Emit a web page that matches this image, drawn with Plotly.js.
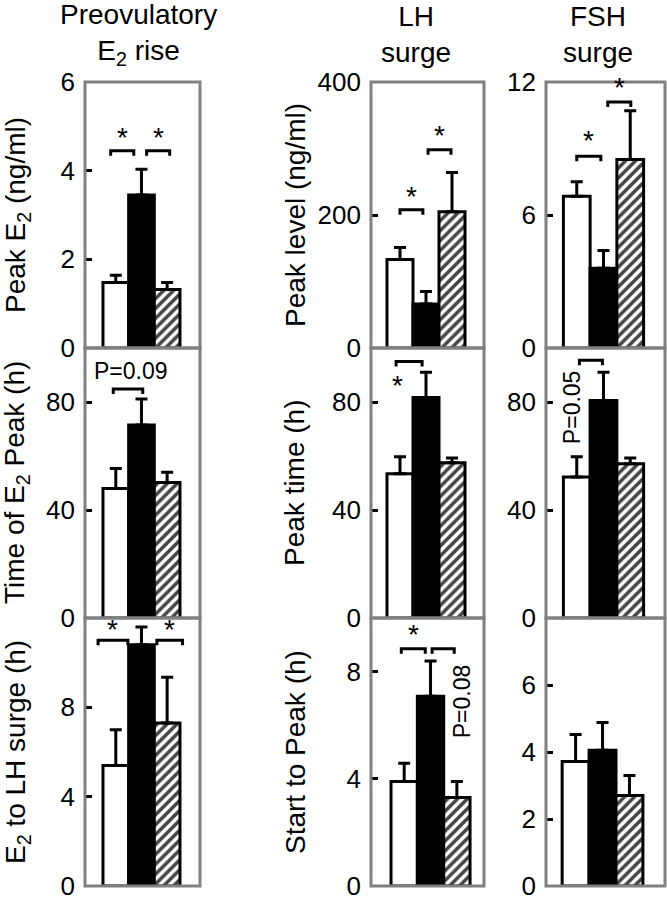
<!DOCTYPE html>
<html><head><meta charset="utf-8">
<script src="https://cdn.plot.ly/plotly-3.0.1.min.js"></script>
<style>html,body{margin:0;padding:0;background:#fff}</style>
</head><body><div id="chart" style="width:667px;height:900px"></div>
<script>
// ---- data ----
const barIndex = [0, 1, 2];
const barFill = ['white', 'black', 'white'];
const barPattern = ['', '', '/'];

const peakE2 = [1.48, 3.45, 1.32];
const peakE2Err = [0.16, 0.58, 0.16];
const e2PeakTime = [48, 71.5, 50.2];
const e2PeakTimeErr = [7.4, 9.6, 3.8];
const e2ToLH = [5.4, 10.8, 7.3];
const e2ToLHErr = [1.6, 0.8, 2.05];

const lhPeak = [133, 66, 205];
const lhPeakErr = [18, 19, 59];
const lhPeakTime = [53.4, 81.7, 57.5];
const lhPeakTimeErr = [6.3, 9.3, 1.8];
const lhStartToPeak = [3.9, 7.08, 3.3];
const lhStartToPeakErr = [0.68, 1.32, 0.6];

const fshPeak = [6.85, 3.6, 8.5];
const fshPeakErr = [0.65, 0.8, 2.2];
const fshPeakTime = [52.2, 80.6, 57.1];
const fshPeakTimeErr = [7.5, 10.4, 2.2];
const fshStartToPeak = [3.72, 4.05, 2.7];
const fshStartToPeakErr = [0.8, 0.83, 0.6];

const colTitles = ['Preovulatory<br>E<sub>2</sub> rise', 'LH<br>surge', 'FSH<br>surge'];
const rowTitlesCol1 = ['Peak E<sub>2</sub> (ng/ml)', 'Time of E<sub>2</sub> Peak (h)', 'E<sub>2</sub> to LH surge (h)'];
const rowTitlesCol2 = ['Peak level (ng/ml)', 'Peak time (h)', 'Start to Peak (h)'];

// ---- layout geometry ----
const W = 667, H = 900;
const colPx = [[85, 200], [371, 484], [546, 665]];
const rowPx = [[82, 348], [348, 618], [618, 886]];
const FONT = 'Liberation Sans, Arial, Helvetica, sans-serif';

const panels = [
  {r:0,c:0,v:peakE2,e:peakE2Err,range:[0,6],ticks:[0,2,4,6],minor:[2,4],xr:[-1.2,3.28],
   br:[[-0.2,0.7,4.45],[1.2,2.1,4.45]], st:[[0.25,4.75],[1.65,4.75]], notes:[]},
  {r:0,c:1,v:lhPeak,e:lhPeakErr,range:[0,400],ticks:[0,200,400],minor:[200],xr:[-1.115,3.23],
   br:[[0,0.88,208],[1.08,1.96,298]], st:[[0.44,228],[1.52,320]], notes:[]},
  {r:0,c:2,v:fshPeak,e:fshPeakErr,range:[0,12],ticks:[0,6,12],minor:[6],xr:[-1.15,3.3],
   br:[[0,0.9,8.65],[1.16,2.02,11.1]], st:[[0.45,9.35],[1.59,11.75]], notes:[]},
  {r:1,c:0,v:e2PeakTime,e:e2PeakTimeErr,range:[0,100],ticks:[0,40,80],minor:[40,80],xr:[-1.2,3.28],
   br:[[-0.1,1.05,84.8]], st:[], notes:[['P=0.09',0.6,91.5,0]]},
  {r:1,c:1,v:lhPeakTime,e:lhPeakTimeErr,range:[0,100],ticks:[0,40,80],minor:[40,80],xr:[-1.115,3.23],
   br:[[-0.15,0.85,95]], st:[[-0.08,86]], notes:[]},
  {r:1,c:2,v:fshPeakTime,e:fshPeakTimeErr,range:[0,100],ticks:[0,40,80],minor:[40,80],xr:[-1.15,3.3],
   br:[[0.1,0.96,95.5]], st:[], notes:[['P=0.05',-0.15,78,-90]]},
  {r:2,c:0,v:e2ToLH,e:e2ToLHErr,range:[0,12],ticks:[0,4,8],minor:[4,8],xr:[-1.2,3.28],
   br:[[-0.69,0.47,11.0],[1.6,2.6,11.0]], st:[[-0.11,11.5],[2.1,11.5]], notes:[]},
  {r:2,c:1,v:lhStartToPeak,e:lhStartToPeakErr,range:[0,10],ticks:[0,4,8],minor:[4,8],xr:[-1.26,3.03],
   br:[[-0.11,0.8,8.85],[1.06,1.9,8.85]], st:[[0.35,9.4]], notes:[['P=0.08',2.2,6.9,-90]]},
  {r:2,c:2,v:fshStartToPeak,e:fshStartToPeakErr,range:[0,8],ticks:[0,2,4,6],minor:[2,4,6],xr:[-1.1,3.32],
   br:[], st:[], notes:[]}
];

const traces = [];
const layout = {
  width: W, height: H, margin: {l:0, r:0, t:0, b:0},
  paper_bgcolor: 'white', plot_bgcolor: 'white',
  showlegend: false, bargap: 0,
  font: {family: FONT, size: 26, color: 'black'},
  shapes: [], annotations: []
};

panels.forEach((p, i) => {
  const n = i === 0 ? '' : String(i + 1);
  const xa = 'x' + n, ya = 'y' + n;
  const pxPerUnit = (rowPx[p.r][1] - rowPx[p.r][0]) / (p.range[1] - p.range[0]);
  traces.push({
    type: 'bar', x: barIndex, y: p.v, xaxis: xa, yaxis: ya, width: 1,
    marker: {color: barFill, line: {color: 'black', width: 3},
             pattern: {shape: barPattern, fgcolor: 'black', fgopacity: 1, bgcolor: 'white', size: 7, solidity: 0.5, fillmode: 'overlay'}},
    error_y: {type: 'data', array: p.e, arrayminus: [0,0,0], symmetric: false, color: 'black', thickness: 3, width: 6},
    hoverinfo: 'none'
  });
  layout['xaxis' + n] = {
    domain: [colPx[p.c][0] / W, colPx[p.c][1] / W], range: p.xr, anchor: ya,
    showticklabels: false, showgrid: false, zeroline: false, showline: false, ticks: '', fixedrange: true
  };
  layout['yaxis' + n] = {
    domain: [1 - rowPx[p.r][1] / H, 1 - rowPx[p.r][0] / H], range: p.range, anchor: xa,
    tickmode: 'array', tickvals: p.ticks, ticks: '', ticklabelstandoff: 9, ticklabeloverflow: 'allow',
    tickfont: {size: 26, family: FONT, color: 'black'},
    minor: {tickmode: 'array', tickvals: p.minor, ticks: 'inside', ticklen: 7, tickwidth: 3, tickcolor: 'black', showgrid: false},
    showgrid: false, zeroline: false, showline: false, fixedrange: true
  };
  // frame
  layout.shapes.push({type: 'rect', xref: xa + ' domain', yref: ya + ' domain', x0: 0, x1: 1, y0: 0, y1: 1,
    line: {color: '#808080', width: 3}, layer: 'above'});
  // significance brackets
  const leg = 5 / pxPerUnit;
  p.br.forEach(b => {
    layout.shapes.push({type: 'path', xref: xa, yref: ya,
      path: `M ${b[0]} ${b[2] - leg} L ${b[0]} ${b[2]} L ${b[1]} ${b[2]} L ${b[1]} ${b[2] - leg}`,
      line: {color: 'black', width: 3}});
  });
  p.st.forEach(s => {
    layout.annotations.push({xref: xa, yref: ya, x: s[0], y: s[1], text: '*', showarrow: false,
      xanchor: 'center', yanchor: 'middle', font: {size: 28, family: FONT, color: 'black'}});
  });
  p.notes.forEach(t => {
    layout.annotations.push({xref: xa, yref: ya, x: t[1], y: t[2], text: t[0], showarrow: false,
      textangle: t[3], xanchor: 'center', yanchor: 'middle', font: {size: 23, family: FONT, color: 'black'}});
  });
});

// column titles
const colTitleX = [138, 416, 598];
colTitles.forEach((t, c) => {
  layout.annotations.push({xref: 'paper', yref: 'paper', x: colTitleX[c] / W, y: 1 - 35 / H, text: t,
    showarrow: false, xanchor: 'center', yanchor: 'middle', align: 'center',
    font: {size: 28, family: FONT, color: 'black'}});
});
// row titles (y axis titles)
rowTitlesCol1.forEach((t, r) => {
  const cy = (rowPx[r][0] + rowPx[r][1]) / 2;
  layout.annotations.push({xref: 'paper', yref: 'paper', x: 17 / W, y: 1 - cy / H, text: t, textangle: -90,
    showarrow: false, xanchor: 'center', yanchor: 'middle', font: {size: 28, family: FONT, color: 'black'}});
});
rowTitlesCol2.forEach((t, r) => {
  const cy = (rowPx[r][0] + rowPx[r][1]) / 2;
  layout.annotations.push({xref: 'paper', yref: 'paper', x: 295 / W, y: 1 - cy / H, text: t, textangle: -90,
    showarrow: false, xanchor: 'center', yanchor: 'middle', font: {size: 28, family: FONT, color: 'black'}});
});

Plotly.newPlot('chart', traces, layout, {displayModeBar: false, staticPlot: true});
</script></body></html>
